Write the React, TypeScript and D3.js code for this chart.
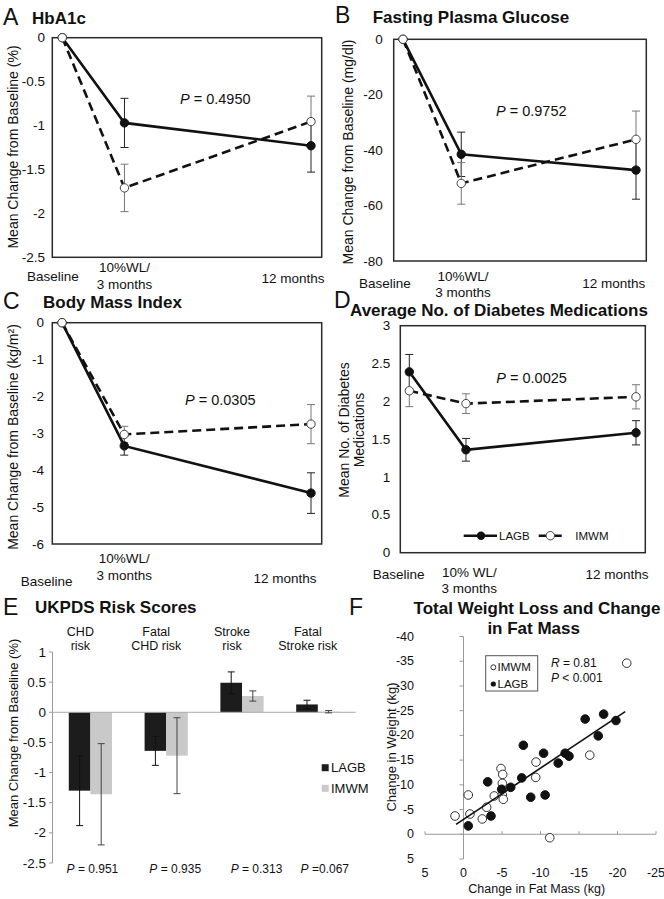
import React from "react";
import * as d3 from "d3";

const FONT = "'Liberation Sans', Arial, Helvetica, sans-serif";

// ---------- Data ----------
const months = [0, 3, 12];

const hba1cLagb = [0, -0.97, -1.23];
const hba1cLagbErr = [0, 0.28, 0.3];
const hba1cImwm = [0, -1.71, -0.955];
const hba1cImwmErr = [0, 0.27, 0.29];

const fpgLagb = [0, -41.5, -47.2];
const fpgLagbErr = [0, 8, 10.5];
const fpgImwm = [0, -52, -36.1];
const fpgImwmErr = [0, 7.5, 10.2];

const bmiLagb = [0, -3.34, -4.62];
const bmiLagbErr = [0, 0.25, 0.55];
const bmiImwm = [0, -3.03, -2.75];
const bmiImwmErr = [0, 0.22, 0.53];

const medLagb = [2.39, 1.36, 1.585];
const medLagbErr = [0.23, 0.15, 0.16];
const medImwm = [2.14, 1.97, 2.06];
const medImwmErr = [0.21, 0.13, 0.16];

const riskCats = ["CHD risk", "Fatal CHD risk", "Stroke risk", "Fatal Stroke risk"];
const riskCatLines = [["CHD", "risk"], ["Fatal", "CHD risk"], ["Stroke", "risk"], ["Fatal", "Stroke risk"]];
const riskLagb = [-1.3, -0.64, 0.49, 0.13];
const riskLagbErr = [0.58, 0.24, 0.18, 0.07];
const riskImwm = [-1.36, -0.72, 0.27, 0.01];
const riskImwmErr = [0.84, 0.63, 0.085, 0.02];
const riskP = ["0.951", "0.935", "0.313", "0.067"];
const riskYTicks = [1, 0.5, 0, -0.5, -1, -1.5, -2, -2.5];

// scatter: [change in fat mass, change in weight]
const scatterLagb: [number, number][] = [
  [-0.62, -1.7], [-3.57, -3.7], [-3.14, -10.6], [-4.96, -9.1], [-6.13, -9.5],
  [-7.56, -11.4], [-7.77, -18.0], [-8.73, -7.5], [-10.6, -7.95], [-10.4, -16.4],
  [-12.3, -14.4], [-13.2, -16.4], [-13.7, -15.8], [-15.8, -23.3], [-17.5, -19.9],
  [-18.2, -24.3], [-19.8, -23.0],
];
const scatterImwm: [number, number][] = [
  [1.1, -3.7], [-0.84, -4.1], [-0.62, -7.95], [-2.44, -3.1], [-3.01, -5.46],
  [-4.0, -7.75], [-4.87, -13.3], [-5.09, -12.1], [-5.04, -10.3], [-5.04, -7.95],
  [-5.17, -7.08], [-9.42, -14.6], [-9.38, -11.5], [-16.4, -16.0], [-11.2, 0.7],
  [-21.2, -34.6],
];
const trendX = [0.97, -21.0];
const trendY = [-2.0, -24.8];
const fXTicks = [5, 0, -5, -10, -15, -20, -25];
const fYTicks = [-40, -35, -30, -25, -20, -15, -10, -5, 0, 5];

// ---------- Line panel ----------
type LineCfg = {
  letter: string; title: string; letterPos: [number, number]; titlePos: [number, number];
  frame: { x0: number; x1: number; y0: number; y1: number };
  xPts: [number, number]; yDomain: [number, number]; yTicks: number[]; tickRight: number;
  lagb: number[]; lagbErr: number[]; imwm: number[]; imwmErr: number[];
  p: string; pPos: [number, number];
  yLabel: string[]; yLabelPos: [number, number][];
  xLabels: { lines: string[]; x: number; y: number }[];
  legend?: boolean;
};

function ErrBars({ x, y, vals, errs, color, cap }: any) {
  return (
    <g stroke={color} strokeWidth={1}>
      {vals.map((v: number, i: number) => {
        if (!errs[i]) return null;
        const xx = x(months[i]);
        const a = y(v + errs[i]);
        const b = y(v - errs[i]);
        return (
          <g key={i}>
            <line x1={xx} x2={xx} y1={a} y2={b} />
            <line x1={xx - cap} x2={xx + cap} y1={a} y2={a} />
            <line x1={xx - cap} x2={xx + cap} y1={b} y2={b} />
          </g>
        );
      })}
    </g>
  );
}

function LinePanel({ cfg }: { cfg: LineCfg }) {
  const f = cfg.frame;
  const x = d3.scaleLinear().domain([0, 12]).range(cfg.xPts);
  const y = d3.scaleLinear().domain(cfg.yDomain).range([f.y1, f.y0]);
  const line = d3.line<number>().x((_, i) => x(months[i])).y((d) => y(d));
  const r = 4.2;
  return (
    <g fontFamily={FONT}>
      <text x={cfg.letterPos[0]} y={cfg.letterPos[1]} fontSize={23} dominantBaseline="central">{cfg.letter}</text>
      <text x={cfg.titlePos[0]} y={cfg.titlePos[1]} fontSize={17} fontWeight="bold" dominantBaseline="central">{cfg.title}</text>
      <rect x={f.x0} y={f.y0} width={f.x1 - f.x0} height={f.y1 - f.y0} fill="white" stroke="#2a2a2a" strokeWidth={1.5} />
      {cfg.yTicks.map((t) => (
        <text key={t} x={cfg.tickRight} y={y(t)} fontSize={13.5} textAnchor="end" dominantBaseline="central">{String(t)}</text>
      ))}
      {cfg.yLabel.map((s, i) => (
        <text key={i} transform={`translate(${cfg.yLabelPos[i][0]},${cfg.yLabelPos[i][1]}) rotate(-90)`} fontSize={14}
          textAnchor="middle" dominantBaseline="central">{s}</text>
      ))}
      {cfg.xLabels.map((l, i) => (
        <text key={i} x={l.x} y={l.y} fontSize={13.5} textAnchor="middle">
          {l.lines.map((s, j) => (
            <tspan key={j} x={l.x} dy={j === 0 ? 0 : 16.5}>{s}</tspan>
          ))}
        </text>
      ))}
      <path d={line(cfg.lagb) || ""} fill="none" stroke="#111" strokeWidth={2.6} />
      <path d={line(cfg.imwm) || ""} fill="none" stroke="#111" strokeWidth={2.6} strokeDasharray="9,5" />
      <ErrBars x={x} y={y} vals={cfg.lagb} errs={cfg.lagbErr} color="#222" cap={4} />
      <ErrBars x={x} y={y} vals={cfg.imwm} errs={cfg.imwmErr} color="#777" cap={4} />
      {cfg.lagb.map((v, i) => (
        <circle key={"l" + i} cx={x(months[i])} cy={y(v)} r={r} fill="#111" stroke="#111" strokeWidth={1} />
      ))}
      {cfg.imwm.map((v, i) => (
        <circle key={"m" + i} cx={x(months[i])} cy={y(v)} r={r} fill="white" stroke="#444" strokeWidth={1} />
      ))}
      <text x={cfg.pPos[0]} y={cfg.pPos[1]} fontSize={14.5} dominantBaseline="central">
        <tspan fontStyle="italic">P</tspan> = {cfg.p}
      </text>
      {cfg.legend && (
        <g fontSize={11.5}>
          <line x1={463.7} x2={497} y1={535.7} y2={535.7} stroke="#111" strokeWidth={2.6} />
          <circle cx={481} cy={535.7} r={r} fill="#111" />
          <text x={499} y={535.7} dominantBaseline="central">LAGB</text>
          <line x1={538.7} x2={563.7} y1={535.7} y2={535.7} stroke="#111" strokeWidth={2.6} strokeDasharray="9,5" />
          <circle cx={550.3} cy={535.7} r={r} fill="white" stroke="#444" />
          <text x={575.3} y={535.7} dominantBaseline="central">IMWM</text>
        </g>
      )}
    </g>
  );
}

const panelA: LineCfg = {
  letter: "A", title: "HbA1c", letterPos: [3, 17], titlePos: [32, 18],
  frame: { x0: 52.3, x1: 321.7, y0: 37.7, y1: 257.3 },
  xPts: [62.3, 311], yDomain: [-2.5, 0], yTicks: [0, -0.5, -1, -1.5, -2, -2.5], tickRight: 45,
  lagb: hba1cLagb, lagbErr: hba1cLagbErr, imwm: hba1cImwm, imwmErr: hba1cImwmErr,
  p: "0.4950", pPos: [180, 99],
  yLabel: ["Mean Change from Baseline (%)"], yLabelPos: [[13, 147]],
  xLabels: [
    { lines: ["Baseline"], x: 53, y: 281 },
    { lines: ["10%WL/", "3 months"], x: 124.5, y: 272 },
    { lines: ["12 months"], x: 293, y: 283 },
  ],
};

const panelB: LineCfg = {
  letter: "B", title: "Fasting Plasma Glucose", letterPos: [335, 15], titlePos: [372.7, 17],
  frame: { x0: 393.7, x1: 646.3, y0: 39.3, y1: 261 },
  xPts: [403, 636], yDomain: [-80, 0], yTicks: [0, -20, -40, -60, -80], tickRight: 382.7,
  lagb: fpgLagb, lagbErr: fpgLagbErr, imwm: fpgImwm, imwmErr: fpgImwmErr,
  p: "0.9752", pPos: [496, 111],
  yLabel: ["Mean Change from Baseline (mg/dl)"], yLabelPos: [[348, 152]],
  xLabels: [
    { lines: ["Baseline"], x: 385, y: 288 },
    { lines: ["10%WL/"], x: 463, y: 281 },
    { lines: ["3 months"], x: 463, y: 297 },
    { lines: ["12 months"], x: 613.7, y: 288 },
  ],
};

const panelC: LineCfg = {
  letter: "C", title: "Body Mass Index", letterPos: [3, 301], titlePos: [43, 302],
  frame: { x0: 52.3, x1: 321.7, y0: 322.7, y1: 544 },
  xPts: [62, 311], yDomain: [-6, 0], yTicks: [0, -1, -2, -3, -4, -5, -6], tickRight: 44,
  lagb: bmiLagb, lagbErr: bmiLagbErr, imwm: bmiImwm, imwmErr: bmiImwmErr,
  p: "0.0305", pPos: [185, 400],
  yLabel: ["Mean Change from Baseline (kg/m²)"], yLabelPos: [[13, 437]],
  xLabels: [
    { lines: ["10%WL/", "3 months"], x: 124.3, y: 563 },
    { lines: ["Baseline"], x: 46.7, y: 586 },
    { lines: ["12 months"], x: 285, y: 582.5 },
  ],
};

const panelD: LineCfg = {
  letter: "D", title: "Average No. of Diabetes Medications", letterPos: [334, 300], titlePos: [350, 310],
  frame: { x0: 400.3, x1: 645.3, y0: 325.7, y1: 552.7 },
  xPts: [409.3, 636], yDomain: [0, 3], yTicks: [3, 2.5, 2, 1.5, 1, 0.5, 0], tickRight: 390.3,
  lagb: medLagb, lagbErr: medLagbErr, imwm: medImwm, imwmErr: medImwmErr,
  p: "0.0025", pPos: [496.3, 378.3],
  yLabel: ["Mean No. of Diabetes", "Medications"], yLabelPos: [[343.7, 430], [358.7, 430]],
  xLabels: [
    { lines: ["Baseline"], x: 398.7, y: 579 },
    { lines: ["10% WL/", "3 months"], x: 469.3, y: 576.5 },
    { lines: ["12 months"], x: 617, y: 579 },
  ],
  legend: true,
};

// ---------- Bar panel E ----------
function PanelE() {
  const y = d3.scaleLinear().domain([-2.5, 1]).range([863, 652]);
  const xg = d3.scaleBand<string>().domain(riskCats).range([52.5, 355.7]).paddingInner(0.43).paddingOuter(0.215);
  const xs = d3.scaleBand<string>().domain(["LAGB", "IMWM"]).range([0, xg.bandwidth()]);
  const pDx = [2, 9, 14.5, 7];
  const groups = [
    { key: "LAGB", vals: riskLagb, errs: riskLagbErr, fill: "#1c1c1c", ec: "#111" },
    { key: "IMWM", vals: riskImwm, errs: riskImwmErr, fill: "#c9c9c9", ec: "#444" },
  ];
  return (
    <g fontFamily={FONT}>
      <text x={3} y={606.7} fontSize={23} dominantBaseline="central">E</text>
      <text x={35} y={607} fontSize={17} fontWeight="bold" dominantBaseline="central">UKPDS Risk Scores</text>
      {riskCats.map((c, i) => {
        const cx = (xg(c) as number) + xg.bandwidth() / 2 - 10;
        return (
          <text key={c} x={cx} y={636} fontSize={12.5} textAnchor="middle">
            <tspan x={cx}>{riskCatLines[i][0]}</tspan>
            <tspan x={cx} dy={14}>{riskCatLines[i][1]}</tspan>
          </text>
        );
      })}
      <line x1={52.5} x2={52.5} y1={y(1)} y2={y(-2.5)} stroke="#999" strokeWidth={1} />
      {riskYTicks.map((t) => (
        <g key={t}>
          <line x1={49} x2={52.5} y1={y(t)} y2={y(t)} stroke="#999" />
          <text x={46} y={y(t)} fontSize={13.5} textAnchor="end" dominantBaseline="central">{String(t)}</text>
        </g>
      ))}
      <text transform={`translate(13,733) rotate(-90)`} fontSize={13} textAnchor="middle" dominantBaseline="central">
        Mean Change from Baseline (%)
      </text>
      {groups.map((g) =>
        riskCats.map((c, i) => {
          const x0 = (xg(c) as number) + (xs(g.key) as number);
          const w = xs.bandwidth();
          const v = g.vals[i];
          return (
            <rect key={g.key + c} x={x0} width={w} y={Math.min(y(v), y(0))} height={Math.abs(y(v) - y(0))} fill={g.fill} />
          );
        })
      )}
      <line x1={52.5} x2={355.7} y1={y(0)} y2={y(0)} stroke="#aaa" strokeWidth={1} />
      {groups.map((g) =>
        riskCats.map((c, i) => {
          const cx = (xg(c) as number) + (xs(g.key) as number) + xs.bandwidth() / 2;
          const a = y(g.vals[i] + g.errs[i]);
          const b = y(g.vals[i] - g.errs[i]);
          return (
            <g key={"e" + g.key + c} stroke={g.ec} strokeWidth={1}>
              <line x1={cx} x2={cx} y1={a} y2={b} />
              <line x1={cx - 3.5} x2={cx + 3.5} y1={a} y2={a} />
              <line x1={cx - 3.5} x2={cx + 3.5} y1={b} y2={b} />
            </g>
          );
        })
      )}
      {riskCats.map((c, i) => (
        <text key={"p" + c} x={(xg(c) as number) + xg.bandwidth() / 2 + pDx[i]} y={868.5} fontSize={12}
          textAnchor="middle" dominantBaseline="central">
          <tspan fontStyle="italic">P</tspan>{i === 3 ? " =" : " = "}{riskP[i]}
        </text>
      ))}
      <rect x={321.7} y={764.2} width={7} height={7} fill="#1c1c1c" />
      <text x={331} y={767.7} fontSize={13} dominantBaseline="central">LAGB</text>
      <rect x={321.7} y={784.8} width={7} height={7} fill="#c9c9c9" />
      <text x={331} y={788.3} fontSize={13} dominantBaseline="central">IMWM</text>
    </g>
  );
}

// ---------- Scatter panel F ----------
function PanelF() {
  const x = d3.scaleLinear().domain([5, -25]).range([425, 656]);
  const y = d3.scaleLinear().domain([5, -40]).range([859, 636.5]);
  const r = 4.3;
  return (
    <g fontFamily={FONT}>
      <text x={349} y={606.7} fontSize={23} dominantBaseline="central">F</text>
      <text x={537} y={608} fontSize={17} fontWeight="bold" textAnchor="middle" dominantBaseline="central">
        Total Weight Loss and Change
      </text>
      <text x={533.7} y={628.3} fontSize={17} fontWeight="bold" textAnchor="middle" dominantBaseline="central">
        in Fat Mass
      </text>
      <line x1={x(0)} x2={x(0)} y1={y(-40)} y2={y(5)} stroke="#999" />
      {fYTicks.map((t) => (
        <g key={t}>
          <line x1={x(0) - 4} x2={x(0)} y1={y(t)} y2={y(t)} stroke="#999" />
          <text x={414} y={y(t)} fontSize={12.5} textAnchor="end" dominantBaseline="central">{String(t)}</text>
        </g>
      ))}
      <line x1={x(5)} x2={x(-25)} y1={y(0)} y2={y(0)} stroke="#999" />
      {fXTicks.map((t) => (
        <g key={t}>
          <line x1={x(t)} x2={x(t)} y1={y(0) - 3} y2={y(0)} stroke="#999" />
          <text x={x(t)} y={873.3} fontSize={12.5} textAnchor="middle" dominantBaseline="central">{String(t)}</text>
        </g>
      ))}
      <text x={536.7} y={888.5} fontSize={12.5} textAnchor="middle" dominantBaseline="central">Change in Fat Mass (kg)</text>
      <text transform={`translate(391,747) rotate(-90)`} fontSize={13} textAnchor="middle" dominantBaseline="central">
        Change in Weight (kg)
      </text>
      {scatterImwm.map((d, i) => (
        <circle key={"o" + i} cx={x(d[0])} cy={y(d[1])} r={r} fill="white" stroke="#333" strokeWidth={1} />
      ))}
      {scatterLagb.map((d, i) => (
        <circle key={"f" + i} cx={x(d[0])} cy={y(d[1])} r={r} fill="#111" stroke="#111" strokeWidth={1} />
      ))}
      <line x1={x(trendX[0])} y1={y(trendY[0])} x2={x(trendX[1])} y2={y(trendY[1])} stroke="#111" strokeWidth={1.6} />
      <rect x={485.7} y={655.7} width={52} height={35.3} fill="white" stroke="#555" strokeWidth={1} />
      <circle cx={493.3} cy={667.3} r={2.5} fill="white" stroke="#333" />
      <text x={497.5} y={667.3} fontSize={11.5} dominantBaseline="central">IMWM</text>
      <circle cx={493.3} cy={684} r={2.6} fill="#111" />
      <text x={497.5} y={684} fontSize={11.5} dominantBaseline="central">LAGB</text>
      <text x={551} y={662.5} fontSize={12} dominantBaseline="central">
        <tspan fontStyle="italic">R</tspan> = 0.81
      </text>
      <text x={551} y={677.7} fontSize={12} dominantBaseline="central">
        <tspan fontStyle="italic">P</tspan> &lt; 0.001
      </text>
    </g>
  );
}

export default function App() {
  return (
    <svg width={664} height={899} style={{ position: "absolute", left: 0, top: 0, background: "white" }}
      fill="#111">
      <rect x={0} y={0} width={664} height={899} fill="white" />
      <LinePanel cfg={panelA} />
      <LinePanel cfg={panelB} />
      <LinePanel cfg={panelC} />
      <LinePanel cfg={panelD} />
      <PanelE />
      <PanelF />
    </svg>
  );
}
